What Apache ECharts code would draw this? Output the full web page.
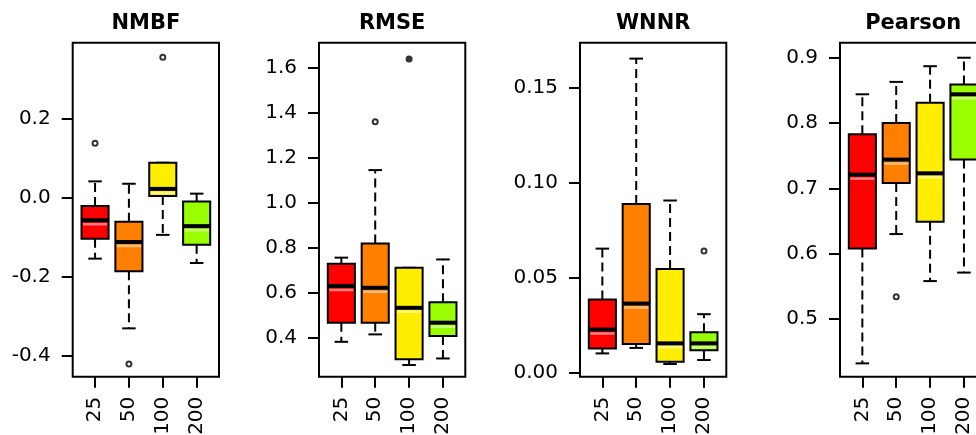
<!DOCTYPE html>
<html>
<head>
<meta charset="utf-8">
<script src="https://cdn.jsdelivr.net/npm/echarts@6/dist/echarts.min.js"></script>
<style>
  html, body { margin: 0; padding: 0; background: #fff; }
  #main { width: 976px; height: 435px; }
</style>
</head>
<body>
<div id="main"></div>
<script>
var categories = ['25', '50', '100', '200'];
var colors = ['#ff0000', '#ff7f00', '#ffee00', '#99ff00'];
var titles = ['NMBF', 'RMSE', 'WNNR', 'Pearson'];

// each box: [lower whisker, Q1, median, Q3, upper whisker]
var nmbfBoxes = [
    [-0.154, -0.104, -0.057, -0.021, 0.041],
    [-0.330, -0.186, -0.112, -0.061, 0.035],
    [-0.094, 0.004, 0.022, 0.088, 0.088],
    [-0.165, -0.119, -0.072, -0.010, 0.010]
];
var nmbfOutliers = [[0, 0.137], [1, -0.420], [2, 0.354]];
var nmbfFilled = [];
var nmbfTicks = [-0.4, -0.2, 0.0, 0.2];

var rmseBoxes = [
    [0.382, 0.467, 0.630, 0.729, 0.756],
    [0.415, 0.467, 0.622, 0.819, 1.145],
    [0.279, 0.304, 0.533, 0.711, 0.711],
    [0.308, 0.408, 0.467, 0.558, 0.748]
];
var rmseOutliers = [[1, 1.36]];
var rmseFilled = [[2, 1.639]];
var rmseTicks = [0.4, 0.6, 0.8, 1.0, 1.2, 1.4, 1.6];

var wnnrBoxes = [
    [0.0100, 0.0126, 0.0226, 0.0384, 0.0653],
    [0.0129, 0.0149, 0.0363, 0.0889, 0.1656],
    [0.0044, 0.0056, 0.0153, 0.0545, 0.0907],
    [0.0065, 0.0117, 0.0153, 0.0212, 0.0307]
];
var wnnrOutliers = [[3, 0.064]];
var wnnrFilled = [];
var wnnrTicks = [0.00, 0.05, 0.10, 0.15];

var pearsonBoxes = [
    [0.432, 0.608, 0.721, 0.783, 0.844],
    [0.630, 0.708, 0.744, 0.800, 0.863],
    [0.558, 0.649, 0.723, 0.831, 0.887],
    [0.571, 0.744, 0.844, 0.859, 0.900]
];
var pearsonOutliers = [[1, 0.534]];
var pearsonFilled = [];
var pearsonTicks = [0.5, 0.6, 0.7, 0.8, 0.9];

var panels = [
    {boxes: nmbfBoxes, out: nmbfOutliers, filled: nmbfFilled, ticks: nmbfTicks, min: -0.452, max: 0.391, digits: 1},
    {boxes: rmseBoxes, out: rmseOutliers, filled: rmseFilled, ticks: rmseTicks, min: 0.227, max: 1.711, digits: 1},
    {boxes: wnnrBoxes, out: wnnrOutliers, filled: wnnrFilled, ticks: wnnrTicks, min: -0.0023, max: 0.174, digits: 2},
    {boxes: pearsonBoxes, out: pearsonOutliers, filled: pearsonFilled, ticks: pearsonTicks, min: 0.4116, max: 0.923, digits: 1}
];

var gridLefts = [72.7, 319, 580, 840];
var gridWidth = 146.3;
var fontName = 'DejaVu Sans';

function renderBox(params, api) {
    var x = api.value(0);
    var lo = api.coord([x, api.value(1)]);
    var q1 = api.coord([x, api.value(2)]);
    var md = api.coord([x, api.value(3)]);
    var q3 = api.coord([x, api.value(4)]);
    var hi = api.coord([x, api.value(5)]);
    var xl = api.coord([x - 0.4, api.value(3)])[0];
    var xr = api.coord([x + 0.4, api.value(3)])[0];
    var cl = api.coord([x - 0.2, api.value(3)])[0];
    var cr = api.coord([x + 0.2, api.value(3)])[0];
    var cx = md[0];
    var dash = {stroke: '#000', lineWidth: 2, lineDash: [9, 5]};
    var solid = {stroke: '#000', lineWidth: 2};
    return {
        type: 'group',
        children: [
            {type: 'line', shape: {x1: cx, y1: q3[1], x2: cx, y2: hi[1]}, style: dash},
            {type: 'line', shape: {x1: cx, y1: q1[1], x2: cx, y2: lo[1]}, style: dash},
            {type: 'line', shape: {x1: cl, y1: hi[1], x2: cr, y2: hi[1]}, style: solid},
            {type: 'line', shape: {x1: cl, y1: lo[1], x2: cr, y2: lo[1]}, style: solid},
            {type: 'rect', shape: {x: xl, y: q3[1], width: xr - xl, height: q1[1] - q3[1]},
                style: {fill: colors[params.dataIndex], stroke: '#000', lineWidth: 2}},
            {type: 'line', shape: {x1: xl + 1.5, y1: md[1] + 4, x2: xr - 1.5, y2: md[1] + 4},
                style: {stroke: 'rgba(255,255,255,0.5)', lineWidth: 2.5}},
            {type: 'line', shape: {x1: xl, y1: md[1], x2: xr, y2: md[1]}, style: {stroke: '#000', lineWidth: 4}}
        ]
    };
}

var grids = [], xAxes = [], yAxes = [], series = [], graphics = [];

panels.forEach(function (p, i) {
    grids.push({
        left: gridLefts[i], top: 42.7, width: gridWidth, height: 334,
        outerBoundsMode: 'none', containLabel: false,
        show: true, borderColor: '#000', borderWidth: 2, backgroundColor: 'transparent'
    });
    xAxes.push({
        gridIndex: i, type: 'value', min: 0.34, max: 4.66,
        splitLine: {show: false},
        axisLine: {show: false, onZero: false},
        axisTick: {show: true, length: 11, customValues: [1, 2, 3, 4], lineStyle: {color: '#000', width: 2}},
        axisLabel: {
            customValues: [1, 2, 3, 4], rotate: 90, margin: 20,
            fontFamily: fontName, fontSize: 20, color: '#000',
            formatter: function (v) { return categories[Math.round(v) - 1]; }
        }
    });
    yAxes.push({
        gridIndex: i, type: 'value', min: p.min, max: p.max,
        splitLine: {show: false},
        axisLine: {show: false, onZero: false},
        axisTick: {show: true, length: 11, customValues: p.ticks, lineStyle: {color: '#000', width: 2}},
        axisLabel: {
            customValues: p.ticks, margin: 22,
            fontFamily: fontName, fontSize: 20, color: '#000',
            formatter: function (v) { return v.toFixed(p.digits); }
        }
    });
    series.push({
        type: 'custom', xAxisIndex: i, yAxisIndex: i,
        renderItem: renderBox,
        encode: {x: 0, y: [1, 2, 3, 4, 5]},
        data: p.boxes.map(function (b, k) { return [k + 1].concat(b); })
    });
    series.push({
        type: 'scatter', xAxisIndex: i, yAxisIndex: i,
        symbol: 'emptyCircle', symbolSize: 5,
        itemStyle: {color: '#000', borderColor: '#000', borderWidth: 1.2},
        data: p.out.map(function (o) { return [o[0] + 1, o[1]]; })
    });
    series.push({
        type: 'scatter', xAxisIndex: i, yAxisIndex: i,
        symbol: 'circle', symbolSize: 7,
        itemStyle: {color: '#000'},
        data: p.filled.map(function (o) { return [o[0] + 1, o[1]]; })
    });
    graphics.push({
        type: 'text', x: gridLefts[i] + gridWidth / 2, y: 24,
        style: {
            text: titles[i], fill: '#000', align: 'center', verticalAlign: 'middle',
            fontFamily: fontName, fontSize: 21, fontWeight: 'bold'
        }
    });
});

var myChart = echarts.init(document.getElementById('main'));

var option = {
    animation: false,
    backgroundColor: '#fff',
    grid: grids,
    xAxis: xAxes,
    yAxis: yAxes,
    series: series,
    graphic: graphics
};

myChart.setOption(option);
</script>
</body>
</html>
